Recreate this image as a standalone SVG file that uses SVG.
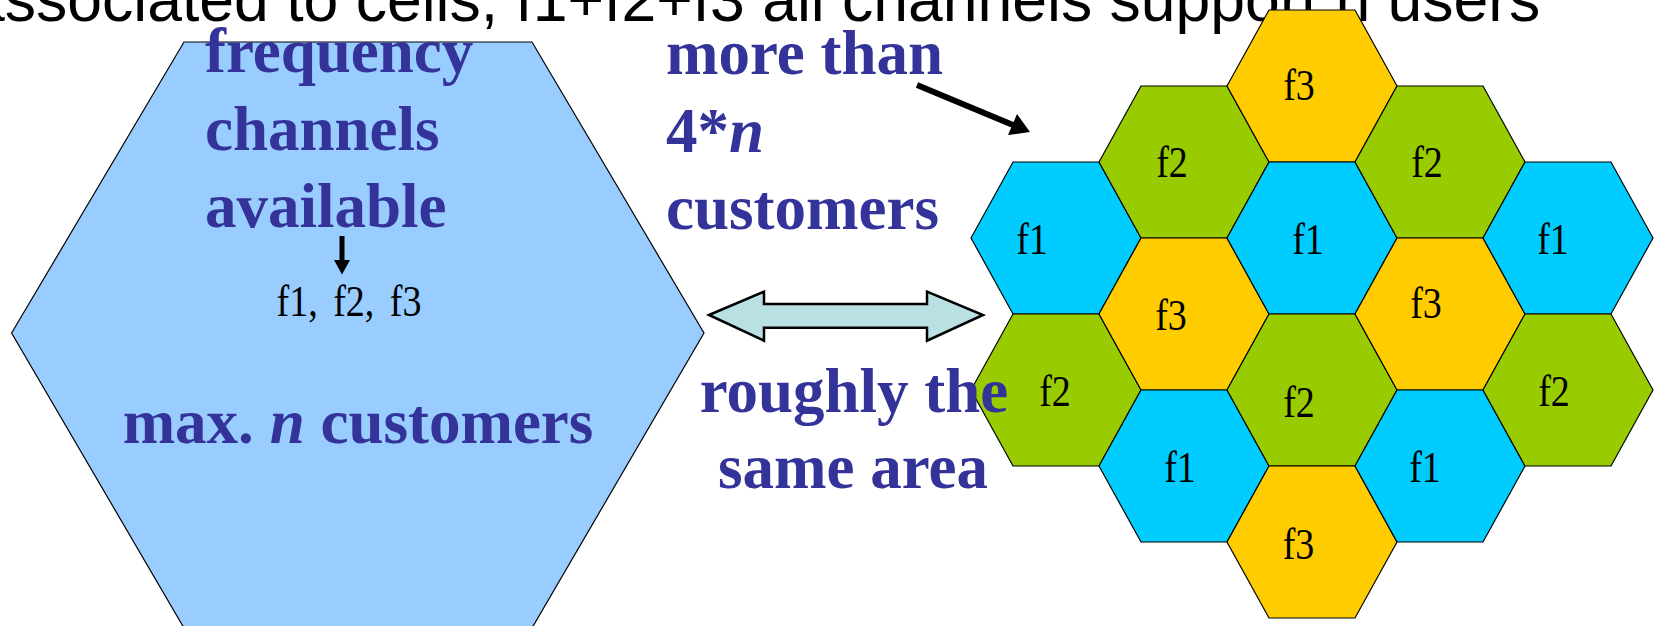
<svg xmlns="http://www.w3.org/2000/svg" width="1659" height="626" viewBox="0 0 1659 626">
<defs>
<style>
.title{font-family:"Liberation Sans",Arial,sans-serif;font-size:62.5px;fill:#000}
.big{font-family:"Liberation Serif","Times New Roman",serif;font-size:63px;font-weight:bold;fill:#333399}
.lab{font-family:"Liberation Serif","Times New Roman",serif;font-size:38px;fill:#000;text-anchor:middle}
.hex{stroke:#000;stroke-width:1.2}
.f1{fill:#00CCFF}.f2{fill:#99CC00}.f3{fill:#FFCC00}
</style>
</defs>
<rect width="1659" height="626" fill="#fff"/>
<text class="title" x="-30" y="21">associated to cells, f1+f2+f3 all channels support n users</text>

<g id="big-cell">
<polygon points="11.6,333 184,42 532,42 704,333 532,628 184,628" fill="#99CCFF" stroke="#000" stroke-width="1.2"/>
<text class="big" x="205" y="72">frequency</text>
<text class="big" x="205" y="149.5">channels</text>
<text class="big" x="205" y="227">available</text>
<text class="lab" transform="translate(349,316) scale(1,1.15)" style="word-spacing:6px">f1, f2, f3</text>
<text class="big" x="358" y="443" text-anchor="middle">max. <tspan font-style="italic">n</tspan> customers</text>
</g>

<g id="cluster">
<g id="c0-f1"><polygon class="hex f1" points="971,238 1013,162 1099,162 1141,238 1099,314 1013,314"/><text class="lab" transform="translate(1032,254) scale(1,1.15)">f1</text></g>
<g id="c0-f2"><polygon class="hex f2" points="971,390 1013,314 1099,314 1141,390 1099,466 1013,466"/><text class="lab" transform="translate(1055,406) scale(1,1.15)">f2</text></g>
<g id="c1-f2"><polygon class="hex f2" points="1099,162 1141,86 1227,86 1269,162 1227,238 1141,238"/><text class="lab" transform="translate(1172,177) scale(1,1.15)">f2</text></g>
<g id="c1-f3"><polygon class="hex f3" points="1099,314 1141,238 1227,238 1269,314 1227,390 1141,390"/><text class="lab" transform="translate(1171,330) scale(1,1.15)">f3</text></g>
<g id="c1-f1"><polygon class="hex f1" points="1099,466 1141,390 1227,390 1269,466 1227,542 1141,542"/><text class="lab" transform="translate(1180,482) scale(1,1.15)">f1</text></g>
<g id="c2-f3a"><polygon class="hex f3" points="1227,86 1269,10 1355,10 1397,86 1355,162 1269,162"/><text class="lab" transform="translate(1299,100) scale(1,1.15)">f3</text></g>
<g id="c2-f1"><polygon class="hex f1" points="1227,238 1269,162 1355,162 1397,238 1355,314 1269,314"/><text class="lab" transform="translate(1308,254) scale(1,1.15)">f1</text></g>
<g id="c2-f2"><polygon class="hex f2" points="1227,390 1269,314 1355,314 1397,390 1355,466 1269,466"/><text class="lab" transform="translate(1299,417) scale(1,1.15)">f2</text></g>
<g id="c2-f3b"><polygon class="hex f3" points="1227,542 1269,466 1355,466 1397,542 1355,618 1269,618"/><text class="lab" transform="translate(1298.5,559) scale(1,1.15)">f3</text></g>
<g id="c3-f2"><polygon class="hex f2" points="1355,162 1397,86 1483,86 1525,162 1483,238 1397,238"/><text class="lab" transform="translate(1427,177) scale(1,1.15)">f2</text></g>
<g id="c3-f3"><polygon class="hex f3" points="1355,314 1397,238 1483,238 1525,314 1483,390 1397,390"/><text class="lab" transform="translate(1426,318) scale(1,1.15)">f3</text></g>
<g id="c3-f1"><polygon class="hex f1" points="1355,466 1397,390 1483,390 1525,466 1483,542 1397,542"/><text class="lab" transform="translate(1425,482) scale(1,1.15)">f1</text></g>
<g id="c4-f1"><polygon class="hex f1" points="1483,238 1525,162 1611,162 1653,238 1611,314 1525,314"/><text class="lab" transform="translate(1553,254) scale(1,1.15)">f1</text></g>
<g id="c4-f2"><polygon class="hex f2" points="1483,390 1525,314 1611,314 1653,390 1611,466 1525,466"/><text class="lab" transform="translate(1554,406) scale(1,1.15)">f2</text></g>
</g>

<g id="connectors">
<polygon points="339.5,236 344.5,236 344.5,260 350,260 342,274.5 334,260 339.5,260" fill="#000"/>
<line x1="917" y1="85" x2="1013" y2="125" stroke="#000" stroke-width="6"/>
<polygon points="1030,132 1008,135 1017,114" fill="#000"/>
<polygon points="709,315 764,291.7 764,304 927,304 927,291.7 983,315 927,340.7 927,327.7 764,327.7 764,340.7" fill="#B9E0E3" stroke="#000" stroke-width="2.5" stroke-linejoin="miter"/>
</g>

<g id="labels">
<text class="big" x="666" y="74">more than</text>
<text class="big" x="666" y="151.5">4*<tspan font-style="italic">n</tspan></text>
<text class="big" x="666" y="229">customers</text>
<text class="big" x="854" y="411.5" text-anchor="middle">roughly the</text>
<text class="big" x="853" y="488" text-anchor="middle">same area</text>
</g>
</svg>
